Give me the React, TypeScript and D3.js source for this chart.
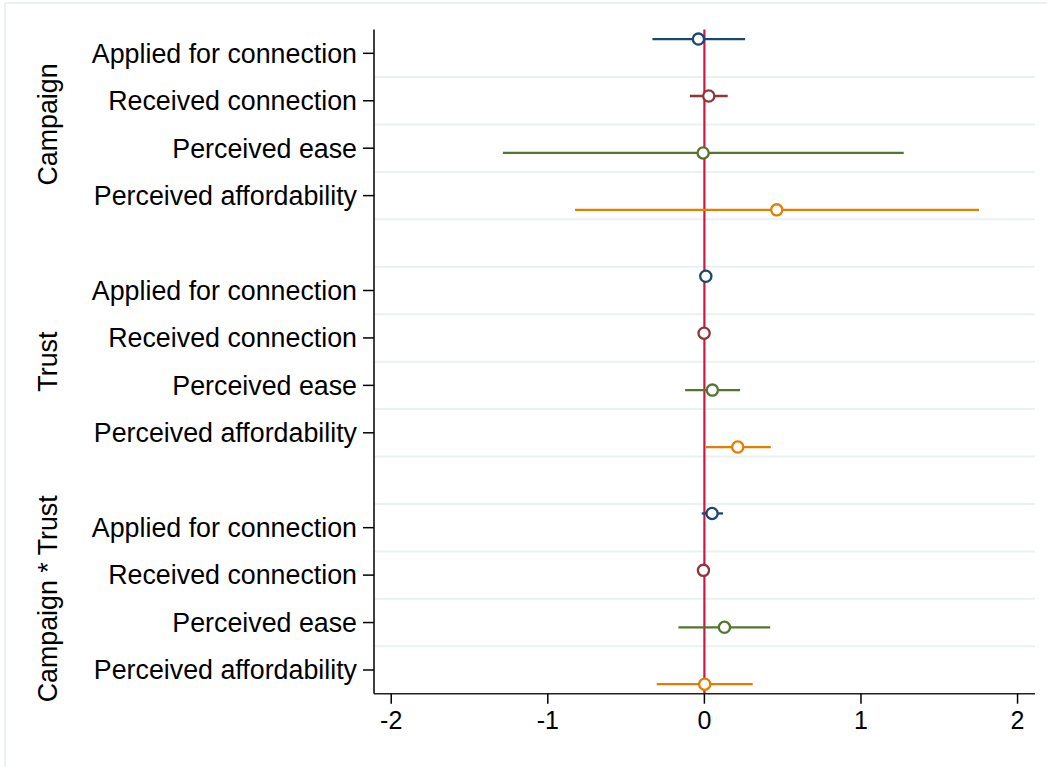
import React from 'react';
import * as d3 from 'd3';

// row labels and groups
const groups = ['Campaign', 'Trust', 'Campaign * Trust'];
const outcomes = ['Applied for connection', 'Received connection', 'Perceived ease', 'Perceived affordability'];
const outcomeColors = ['#1a476f', '#90353b', '#55752f', '#e37e00'];

// point estimates and confidence bounds, one array per group
const campaignEst = [-0.038, 0.028, -0.008, 0.462];
const campaignLo = [-0.332, -0.093, -1.287, -0.826];
const campaignHi = [0.26, 0.149, 1.273, 1.754];

const trustEst = [0.009, -0.002, 0.051, 0.213];
const trustLo = [0.004, -0.006, -0.123, 0.009];
const trustHi = [0.014, 0.002, 0.228, 0.424];

const interEst = [0.049, -0.006, 0.128, 0.002];
const interLo = [-0.017, -0.01, -0.166, -0.304];
const interHi = [0.119, -0.002, 0.42, 0.309];

const xTicks = [-2, -1, 0, 1, 2];

const estimates = [campaignEst, trustEst, interEst];
const lows = [campaignLo, trustLo, interLo];
const highs = [campaignHi, trustHi, interHi];

const App = () => {
  const width = 1047;
  const height = 767;
  const left = 374;
  const right = 1034;
  const top = 29.6;
  const bottom = 693.7;
  const font = '"Liberation Sans", Arial, Helvetica, sans-serif';

  const x = d3.scaleLinear().domain([-2.11, 2.105]).range([left, right]);
  // one slot per row, with an empty slot between groups
  const y = d3.scaleLinear().domain([-0.5, 13.5]).range([top, bottom]);
  const offsets = [-0.3, -0.1, 0.1, 0.3];

  const rows = groups.flatMap((g, gi) =>
    outcomes.map((o, oi) => ({
      group: g,
      label: o,
      slot: gi * 5 + oi,
      est: estimates[gi][oi],
      lo: lows[gi][oi],
      hi: highs[gi][oi],
      color: outcomeColors[oi],
      off: offsets[oi],
    }))
  );

  const gridSlots = d3.range(0.5, 13, 1);

  return (
    <svg width={width} height={height} style={{ position: 'absolute', left: 0, top: 0, background: '#fff' }} fontFamily={font}>
      {/* faint outer frame */}
      <line x1={5} x2={5} y1={3} y2={height} stroke="#e6eef0" strokeWidth={1.5} />
      <line x1={5} x2={width} y1={3} y2={3} stroke="#e6eef0" strokeWidth={1.5} />

      {/* gridlines */}
      {gridSlots.map(s => (
        <line key={s} x1={left + 1} x2={right + 1} y1={y(s)} y2={y(s)} stroke="#eaf1f3" strokeWidth={2} />
      ))}

      {/* zero line */}
      <line x1={x(0)} x2={x(0)} y1={top} y2={bottom} stroke="#cf1742" strokeWidth={2.2} />

      {/* confidence intervals and markers */}
      {rows.map((r, i) => (
        <g key={i}>
          <line x1={x(r.lo)} x2={x(r.hi)} y1={y(r.slot + r.off)} y2={y(r.slot + r.off)} stroke={r.color} strokeWidth={2.3} />
          <circle cx={x(r.est)} cy={y(r.slot + r.off)} r={5.6} fill="#fff" stroke={r.color} strokeWidth={2.3} />
        </g>
      ))}

      {/* axes */}
      <line x1={left} x2={left} y1={top} y2={bottom} stroke="#000" strokeWidth={1.5} />
      <line x1={left} x2={right + 1} y1={bottom} y2={bottom} stroke="#222" strokeWidth={1.5} />

      {/* y ticks and labels */}
      {rows.map((r, i) => (
        <g key={'yl' + i}>
          <line x1={363} x2={left} y1={y(r.slot)} y2={y(r.slot)} stroke="#000" strokeWidth={1.5} />
          <text x={357} y={y(r.slot)} dy="0.35em" textAnchor="end" fontSize={26.8} fill="#000">{r.label}</text>
        </g>
      ))}

      {/* group titles */}
      {groups.map((g, gi) => {
        const cy = (y(gi * 5) + y(gi * 5 + 3)) / 2;
        return (
          <text key={g} transform={`translate(57,${cy}) rotate(-90)`} textAnchor="middle" fontSize={26.8} fill="#000">{g}</text>
        );
      })}

      {/* x ticks */}
      {xTicks.map(t => (
        <g key={t}>
          <line x1={x(t)} x2={x(t)} y1={bottom} y2={bottom + 10} stroke="#000" strokeWidth={1.5} />
          <text x={x(t)} y={729} textAnchor="middle" fontSize={25} fill="#000">{t}</text>
        </g>
      ))}
    </svg>
  );
};

export default App;
